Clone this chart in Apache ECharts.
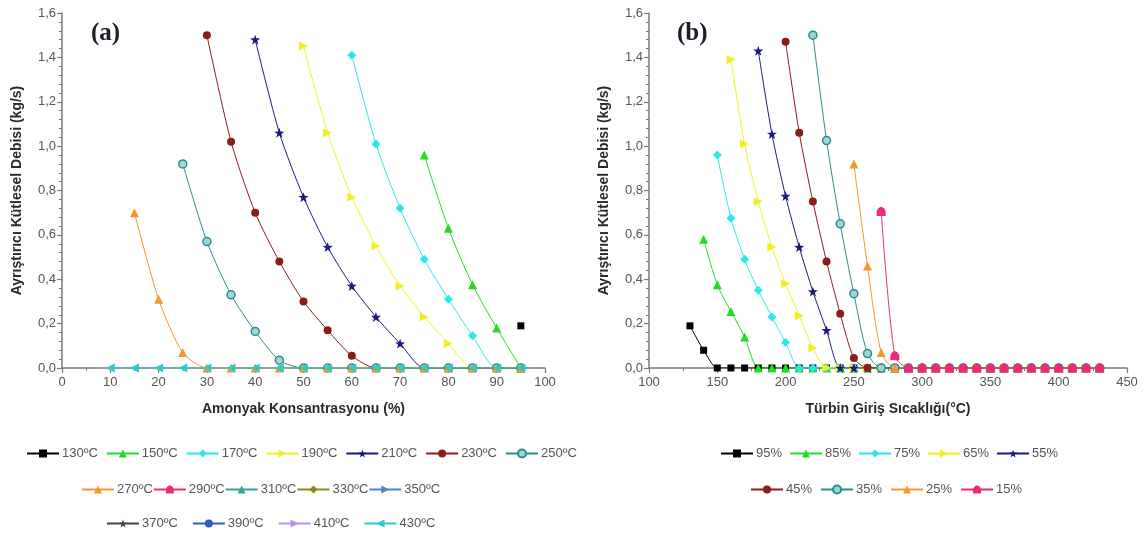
<!DOCTYPE html>
<html>
<head>
<meta charset="utf-8">
<script src="https://cdn.jsdelivr.net/npm/echarts@6/dist/echarts.min.js"></script>
<style>
html,body{margin:0;padding:0;background:#fff;}
#chart{width:1146px;height:535px;}
</style>
</head>
<body>
<div id="chart"></div>
<script>
// ---------- Data: panel (a) ----------
const concA = [10,15,20,25,30,35,40,45,50,55,60,65,70,75,80,85,90,95];
const namesA = ['130ºC','150ºC','170ºC','190ºC','210ºC','230ºC','250ºC','270ºC','290ºC','310ºC','330ºC','350ºC','370ºC','390ºC','410ºC','430ºC'];
const a130 = [null,null,null,null,null,null,null,null,null,null,null,null,null,null,null,null,null,0.19];
const a150 = [null,null,null,null,null,null,null,null,null,null,null,null,null,0.96,0.63,0.375,0.18,0];
const a170 = [null,null,null,null,null,null,null,null,null,null,1.41,1.01,0.72,0.49,0.31,0.145,0,0];
const a190 = [null,null,null,null,null,null,null,null,1.45,1.06,0.77,0.55,0.37,0.23,0.11,0,0,0];
const a210 = [null,null,null,null,null,null,1.48,1.06,0.77,0.545,0.37,0.23,0.11,0,0,0,0,0];
const a230 = [null,null,null,null,1.50,1.02,0.70,0.48,0.30,0.17,0.055,0,0,0,0,0,0,0];
const a250 = [null,null,null,0.92,0.57,0.33,0.165,0.035,0,0,0,0,0,0,0,0,0,0];
const a270 = [null,0.70,0.31,0.07,0,0,0,0,0,0,0,0,0,0,0,0,0,0];
// 290–410 ºC: no marks visible in the plot (hidden under the 430 ºC zero line)
const a290 = [];
const a310 = [];
const a330 = [];
const a350 = [];
const a370 = [];
const a390 = [];
const a410 = [];
const a430 = [0,0,0,0,0,0,0,0,0,0,0,0,0,0,0,0,0,0];
const valuesA = [a130,a150,a170,a190,a210,a230,a250,a270,a290,a310,a330,a350,a370,a390,a410,a430];

// ---------- Data: panel (b) ----------
const tempB = [130,140,150,160,170,180,190,200,210,220,230,240,250,260,270,280,290,300,310,320,330,340,350,360,370,380,390,400,410,420,430];
const namesB = ['95%','85%','75%','65%','55%','45%','35%','25%','15%'];
const b95 = [0.19,0.08,0,0,0,0,0,0,0,0,0,0,0,0,0,0,0,0,0,0,0,0,0,0,0,0,0,0,0,0,0];
const b85 = [null,0.58,0.375,0.255,0.14,0,0,0,0,0,0,0,0,0,0,0,0,0,0,0,0,0,0,0,0,0,0,0,0,0,0];
const b75 = [null,null,0.96,0.675,0.49,0.35,0.23,0.115,0,0,0,0,0,0,0,0,0,0,0,0,0,0,0,0,0,0,0,0,0,0,0];
const b65 = [null,null,null,1.39,1.01,0.75,0.545,0.38,0.235,0.09,0,0,0,0,0,0,0,0,0,0,0,0,0,0,0,0,0,0,0,0,0];
const b55 = [null,null,null,null,null,1.43,1.055,0.775,0.545,0.345,0.17,0,0,0,0,0,0,0,0,0,0,0,0,0,0,0,0,0,0,0,0];
const b45 = [null,null,null,null,null,null,null,1.47,1.06,0.75,0.48,0.245,0.045,0,0,0,0,0,0,0,0,0,0,0,0,0,0,0,0,0,0];
const b35 = [null,null,null,null,null,null,null,null,null,1.50,1.025,0.65,0.335,0.065,0,0,0,0,0,0,0,0,0,0,0,0,0,0,0,0,0];
const b25 = [null,null,null,null,null,null,null,null,null,null,null,null,0.92,0.46,0.07,0,0,0,0,0,0,0,0,0,0,0,0,0,0,0,0];
const b15 = [null,null,null,null,null,null,null,null,null,null,null,null,null,null,0.705,0.055,0,0,0,0,0,0,0,0,0,0,0,0,0,0,0];
const valuesB = [b95,b85,b75,b65,b55,b45,b35,b25,b15];

// tick labels
const yTicks = [0,0.2,0.4,0.6,0.8,1.0,1.2,1.4,1.6];

// ---------- Styles ----------
const RTRI = 'path://M0,0 L10,5 L0,10 Z';
const LTRI = 'path://M10,0 L0,5 L10,10 Z';
const STAR = 'path://M5,0 L6.2,3.6 L10,3.7 L7,6 L8.1,9.7 L5,7.5 L1.9,9.7 L3,6 L0,3.7 L3.8,3.6 Z';
const DOME = 'path://M0,7 C0,1 10,1 10,7 L10,9 L0,9 Z';
const stylesA = [
  {c:'#000000', s:'rect', z:7},
  {c:'#22dd22', s:'triangle', z:9},
  {c:'#2ee6ea', s:'diamond', z:9},
  {c:'#f0f020', s:RTRI, z:9},
  {c:'#1a1a80', s:STAR, z:10},
  {c:'#8a1c1c', s:'circle', z:8},
  {c:'#2b8c8c', s:'circle', z:8, fill:'#9fd6d6'},
  {c:'#f5962e', s:'triangle', z:9},
  {c:'#ec2a7c', s:DOME, z:9},
  {c:'#2aa898', s:'triangle', z:9},
  {c:'#8a8a10', s:'diamond', z:9},
  {c:'#4a86c0', s:RTRI, z:9},
  {c:'#444444', s:STAR, z:10},
  {c:'#2a5cc0', s:'circle', z:7},
  {c:'#b890e8', s:RTRI, z:9},
  {c:'#30c8c8', s:LTRI, z:9}
];
const stylesB = [stylesA[0],stylesA[1],stylesA[2],stylesA[3],stylesA[4],stylesA[5],stylesA[6],stylesA[7],stylesA[8]];

function pairs(xs, ys){
  const out = [];
  for (let i=0;i<ys.length;i++){ if (ys[i]!==null) out.push([xs[i], ys[i]]); }
  return out;
}
function mkSeries(name, xs, ys, st, idx){
  return {
    name: name, type:'line', xAxisIndex: idx, yAxisIndex: idx,
    data: pairs(xs, ys),
    smooth: 0.25,
    showAllSymbol: true,
    symbol: st.s, symbolSize: st.z,
    lineStyle: {color: st.c, width: 1},
    itemStyle: {color: st.fill || st.c, borderColor: st.c, borderWidth: st.fill ? 1.5 : 0},
    emphasis: {disabled: true},
    animation: false
  };
}

const series = [];
namesA.forEach((n,i)=>series.push(mkSeries(n, concA, valuesA[i], stylesA[i], 0)));
namesB.forEach((n,i)=>series.push(mkSeries(n, tempB, valuesB[i], stylesB[i], 1)));

const axisGray = '#7a7a7a';
const labelStyle = {color:'#555', fontSize:13, fontFamily:'Liberation Sans, Arial, sans-serif'};
const nameStyle = {color:'#2a2a2a', fontSize:14, fontWeight:'bold', fontFamily:'Liberation Sans, Arial, sans-serif'};
function yAxis(idx){
  return {
    type:'value', gridIndex: idx, min: yTicks[0], max: yTicks[yTicks.length-1], interval: 0.2,
    name:'Ayrıştırıcı Kütlesel Debisi (kg/s)', nameLocation:'middle', nameGap: 38, nameRotate: 90,
    nameTextStyle: nameStyle,
    axisLine:{show:true, onZero:false, lineStyle:{color:axisGray, width:1.5}},
    axisTick:{show:true, length:5, lineStyle:{color:axisGray, width:1.2}},
    minorTick:{show:true, splitNumber:5, length:3, lineStyle:{color:axisGray}},
    splitLine:{show:false},
    axisLabel:{...labelStyle, margin:6, formatter: v => v.toFixed(1).replace('.', ',')}
  };
}
function xAxis(idx, min, max, interval, name){
  return {
    type:'value', gridIndex: idx, min:min, max:max, interval:interval,
    name:name, nameLocation:'middle', nameGap: 34, nameTextStyle: nameStyle,
    axisLine:{show:true, lineStyle:{color:axisGray, width:1.5}},
    axisTick:{show:true, length:5, lineStyle:{color:axisGray, width:1.2}},
    minorTick:{show:true, splitNumber:2, length:3, lineStyle:{color:axisGray}},
    splitLine:{show:false},
    axisLabel:{...labelStyle, margin:8}
  };
}
function legend(names, left, top, gap){
  return {
    data: names, left:left, top:top, orient:'horizontal',
    itemWidth: 32, itemHeight: 10, itemGap: gap,
    textStyle:{color:'#555', fontSize:13, fontFamily:'Liberation Sans, Arial, sans-serif', padding:[0,0,0,-2]},
    selectedMode:false
  };
}

const option = {
  backgroundColor:'#fff',
  animation:false,
  title:[
    {text:'(a)', left:86, top:16, textStyle:{fontFamily:'Liberation Serif, Times New Roman, serif', fontWeight:'bold', fontSize:25, color:'#1d1d2b'}},
    {text:'(b)', left:672, top:16, textStyle:{fontFamily:'Liberation Serif, Times New Roman, serif', fontWeight:'bold', fontSize:25, color:'#1d1d2b'}}
  ],
  grid:[
    {left:62, right:601, top:13, bottom:167, containLabel:false},
    {left:649, right:19, top:13, bottom:167, containLabel:false}
  ],
  xAxis:[ xAxis(0, 0, 100, 10, 'Amonyak Konsantrasyonu (%)'), xAxis(1, 100, 450, 50, 'Türbin Giriş Sıcaklığı(°C)') ],
  yAxis:[ yAxis(0), yAxis(1) ],
  legend:[
    legend(namesA.slice(0,7), 21, 442, 8),
    legend(namesA.slice(7,12), 76, 478, 0),
    legend(namesA.slice(12,16), 101, 512, 14),
    legend(namesB.slice(0,5), 715, 442, 7),
    legend(namesB.slice(5,9), 745, 478, 8)
  ],
  series: series
};

const chart = echarts.init(document.getElementById('chart'), null, {renderer:'canvas'});
chart.setOption(option);
</script>
</body>
</html>
